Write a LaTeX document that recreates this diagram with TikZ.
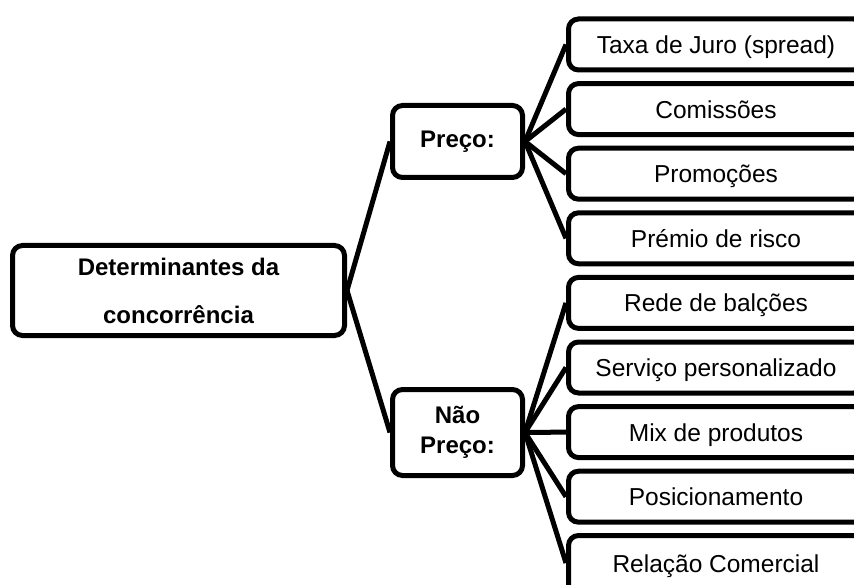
\documentclass[tikz,border=0pt]{standalone}
\usepackage{fontspec}
\setmainfont{Liberation Sans}
\begin{document}
\begin{tikzpicture}[x=1pt,y=-1pt,
  box/.style={draw=black, fill=white, line width=5pt, rounded corners=10pt, inner sep=0pt},
  rbox/.style={box, minimum width=295pt, minimum height=51pt, text height=18pt, text depth=0pt,
    font=\fontsize{24.5}{29}\selectfont},
  link/.style={line width=5pt}]
\useasboundingbox (0,0) rectangle (854,585);
\clip (0,0) rectangle (854,585);
\fill[white] (0,0) rectangle (854,585);
\node[box, minimum width=332pt, minimum height=90pt, align=center,
  font=\bfseries\fontsize{24}{48}\selectfont] (root) at (178.5,290.5) {Determinantes da\\concorrência};
\node[box, minimum width=130pt, minimum height=72pt, font=\bfseries\fontsize{24}{29}\selectfont] (preco) at (457.5,141.5) {Preço:};
\node[box, minimum width=130pt, minimum height=86pt, align=center,
  font=\bfseries\fontsize{24}{30}\selectfont] (naopreco) at (457.5,432.5) {Não\\Preço:};
\node[rbox] (r1) at (716,44.5) {Taxa de Juro (spread)};
\node[rbox] (r2) at (716,109.1) {Comissões};
\node[rbox] (r3) at (716,173.7) {Promoções};
\node[rbox] (r4) at (716,238.3) {Prémio de risco};
\node[rbox] (r5) at (716,302.9) {Rede de balções};
\node[rbox] (r6) at (716,367.5) {Serviço personalizado};
\node[rbox] (r7) at (716,432.1) {Mix de produtos};
\node[rbox] (r8) at (716,496.7) {Posicionamento};
\node[rbox, minimum height=70pt, text height=3pt] (r9) at (716,570.5) {Relação Comercial};
\draw[link] (root.east) -- (preco.west);
\draw[link] (root.east) -- (naopreco.west);
\foreach \n in {r1,r2,r3,r4} \draw[link] (preco.east) -- (\n.west);
\foreach \n in {r5,r6,r7,r8} \draw[link] (naopreco.east) -- (\n.west);
\draw[link] (naopreco.east) -- ([yshift=7.5pt]r9.west);
\end{tikzpicture}
\end{document}
